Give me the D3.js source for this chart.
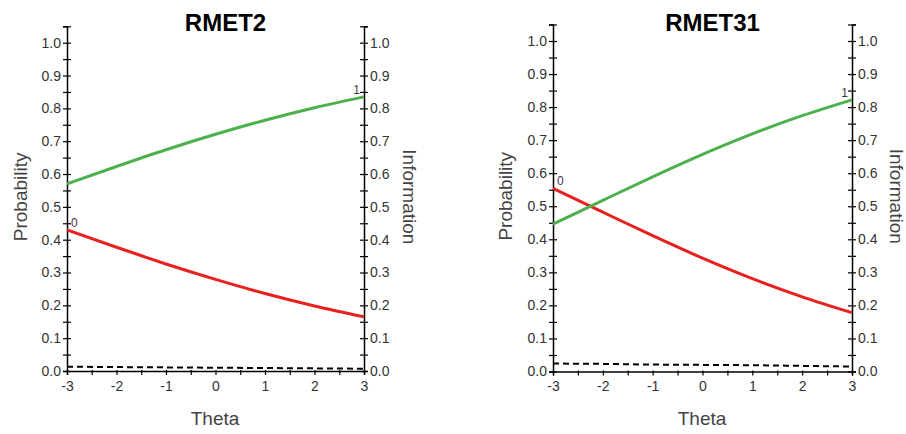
<!DOCTYPE html>
<html>
<head>
<meta charset="utf-8">
<script src="https://cdn.jsdelivr.net/npm/d3@7"></script>
<style>
  body { margin: 0; background: #fff; }
  svg { display: block; font-family: Arial, "Liberation Sans", sans-serif; }
</style>
</head>
<body>
<div id="chart"></div>
<script>
// theta grid shared by both items
const theta = [-3, -2, -1, 0, 1, 2, 3];

// RMET2
const rmet2Cat1 = [0.570, 0.623, 0.674, 0.721, 0.764, 0.802, 0.835];
const rmet2Cat0 = [0.430, 0.377, 0.326, 0.279, 0.236, 0.198, 0.165];
const rmet2Info = [0.013, 0.012, 0.011, 0.010, 0.009, 0.008, 0.007];

// RMET31
const rmet31Cat1 = [0.446, 0.518, 0.589, 0.657, 0.719, 0.774, 0.822];
const rmet31Cat0 = [0.554, 0.482, 0.411, 0.343, 0.281, 0.226, 0.178];
const rmet31Info = [0.024, 0.023, 0.021, 0.020, 0.019, 0.017, 0.015];

const yTicks = d3.range(0, 22).map(i => i / 20);
const xTicks = d3.range(-6, 7).map(i => i / 2);

const panels = [
  {title: 'RMET2', left: 67, right: 364, top: 42.7, bottom: 371, c0: rmet2Cat0, c1: rmet2Cat1, info: rmet2Info,
   probX: 20, infoX: 410, thetaX: 215},
  {title: 'RMET31', left: 553, right: 852, top: 41, bottom: 371.5, c0: rmet31Cat0, c1: rmet31Cat1, info: rmet31Info,
   probX: 505, infoX: 897, thetaX: 702}
];

const svg = d3.select('#chart').append('svg')
  .attr('width', 906)
  .attr('height', 434);

panels.forEach(p => {
  const x = d3.scaleLinear().domain([-3, 3]).range([p.left, p.right]);
  const unit = p.bottom - p.top;
  const y = d3.scaleLinear().domain([0, 1.05]).range([p.bottom, p.bottom - 1.05 * unit]);
  const g = svg.append('g');

  const fmtY = d => (Math.round(d * 100) % 10 === 0 && d <= 1) ? d.toFixed(1) : '';

  const styleAxis = (sel, cross) => {
    sel.select('.domain').attr('stroke', '#000').attr('stroke-width', 1.5);
    sel.selectAll('.tick line').attr('stroke', '#000').attr('stroke-width', 1.2);
    sel.selectAll('.tick text').attr('fill', '#333').style('font-size', '14px');
    if (cross) sel.selectAll('.tick line').attr('x1', -4).attr('x2', 4);
  };

  const yl = g.append('g')
    .attr('transform', `translate(${p.left},0)`)
    .call(d3.axisLeft(y).tickValues(yTicks).tickFormat(fmtY).tickSizeOuter(0).tickSize(4).tickPadding(2));
  styleAxis(yl, true);

  const yr = g.append('g')
    .attr('transform', `translate(${p.right},0)`)
    .call(d3.axisRight(y).tickValues(yTicks).tickFormat(fmtY).tickSizeOuter(0).tickSize(4).tickPadding(2));
  styleAxis(yr, true);

  const xa = g.append('g')
    .attr('transform', `translate(0,${p.bottom})`)
    .call(d3.axisBottom(x).tickValues(xTicks).tickFormat(d => Number.isInteger(d) ? d : '').tickSizeOuter(0).tickSize(4).tickPadding(6));
  styleAxis(xa, false);
  xa.selectAll('.tick line').attr('y1', -1);

  const line = d3.line().x((d, i) => x(theta[i])).y(d => y(d)).curve(d3.curveMonotoneX);

  g.append('path').datum(p.info)
    .attr('d', line).attr('fill', 'none')
    .attr('stroke', '#000').attr('stroke-width', 2).attr('stroke-dasharray', '6,4');

  g.append('path').datum(p.c0)
    .attr('d', line).attr('fill', 'none')
    .attr('stroke', '#e8201f').attr('stroke-width', 3);

  g.append('path').datum(p.c1)
    .attr('d', line).attr('fill', 'none')
    .attr('stroke', '#4cb04c').attr('stroke-width', 3);

  g.append('text')
    .attr('x', x(-3) + 4).attr('y', y(p.c0[0]) - 3)
    .text('0').attr('fill', '#4a3040').style('font-size', '12px');

  g.append('text')
    .attr('x', x(3) - 4).attr('y', y(p.c1[6]) - 3)
    .attr('text-anchor', 'end')
    .text('1').attr('fill', '#4a3040').style('font-size', '12px');

  g.append('text')
    .attr('x', (p.left + p.right) / 2 + 10).attr('y', 31)
    .attr('text-anchor', 'middle')
    .style('font-size', '24px').style('font-weight', 'bold')
    .text(p.title);

  g.append('text')
    .attr('transform', `translate(${p.probX},${(p.top + p.bottom) / 2 - 10}) rotate(-90)`)
    .attr('text-anchor', 'middle').attr('dy', '0.35em')
    .attr('fill', '#444').style('font-size', '19px')
    .text('Probability');

  g.append('text')
    .attr('transform', `translate(${p.infoX},${(p.top + p.bottom) / 2 - 10}) rotate(90)`)
    .attr('text-anchor', 'middle').attr('dy', '0.35em')
    .attr('fill', '#444').style('font-size', '19px')
    .text('Information');

  g.append('text')
    .attr('x', p.thetaX).attr('y', 425)
    .attr('text-anchor', 'middle')
    .attr('fill', '#444').style('font-size', '19px')
    .text('Theta');
});
</script>
</body>
</html>
